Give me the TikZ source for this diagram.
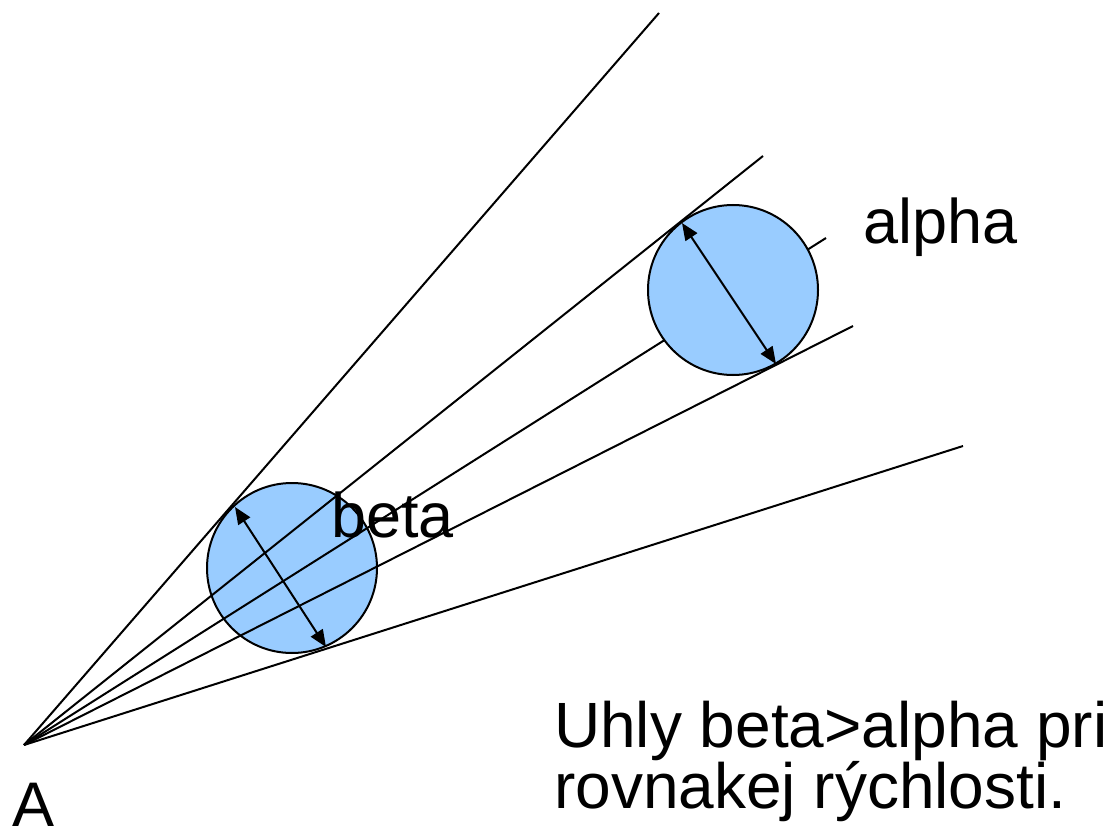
\documentclass[tikz,border=0pt]{standalone}
\usepackage{fontspec}
\setmainfont{Liberation Sans}
\usetikzlibrary{arrows.meta}
\definecolor{ballblue}{HTML}{99CCFF}
\begin{document}
\begin{tikzpicture}[x=1pt,y=-1pt,
  ray/.style={line width=2pt},
  ball/.style={circle, draw, line width=2pt, fill=ballblue, minimum size=170pt, inner sep=0pt},
  dia/.style={line width=2pt, {Triangle[length=17pt,width=14pt]}-{Triangle[length=17pt,width=14pt]}},
  lbl/.style={anchor=base west, inner sep=0pt, font=\fontsize{63}{55}\selectfont}]
\useasboundingbox (0,0) rectangle (1117,832);
\fill[white] (0,0) rectangle (1117,832);
% lower ball (lines drawn over it)
\node[ball] (lower) at (292,568) {};
\coordinate (A) at (24,745);
\coordinate (e1) at (659,13);
\coordinate (e2) at (763,156);
\coordinate (e3) at (826,238);
\coordinate (e4) at (853,326);
\coordinate (e5) at (963,446);
\draw[ray] (A) -- (e1);
\draw[ray] (A) -- (e2);
\draw[ray] (A) -- (e3);
\draw[ray] (A) -- (e4);
\draw[ray] (A) -- (e5);
% upper ball (hides the middle ray)
\node[ball] (upper) at (733,290) {};
\coordinate (u1) at (682,223);
\coordinate (u2) at (776,364);
\coordinate (l1) at (235,507);
\coordinate (l2) at (326,647);
\draw[dia] (u1) -- (u2);
\draw[dia] (l1) -- (l2);
\node[lbl] (alpha) at (863,243) {alpha};
\node[lbl] (beta) at (331,537) {beta};
\node[lbl] (Alab) at (12,826) {A};
\node[lbl, align=left, anchor=north west, font=\fontsize{64}{55}\selectfont] (note) at (554,701) {\vphantom{U}Uhly beta>alpha pri\\rovnakej rýchlosti.};
\end{tikzpicture}
\end{document}
